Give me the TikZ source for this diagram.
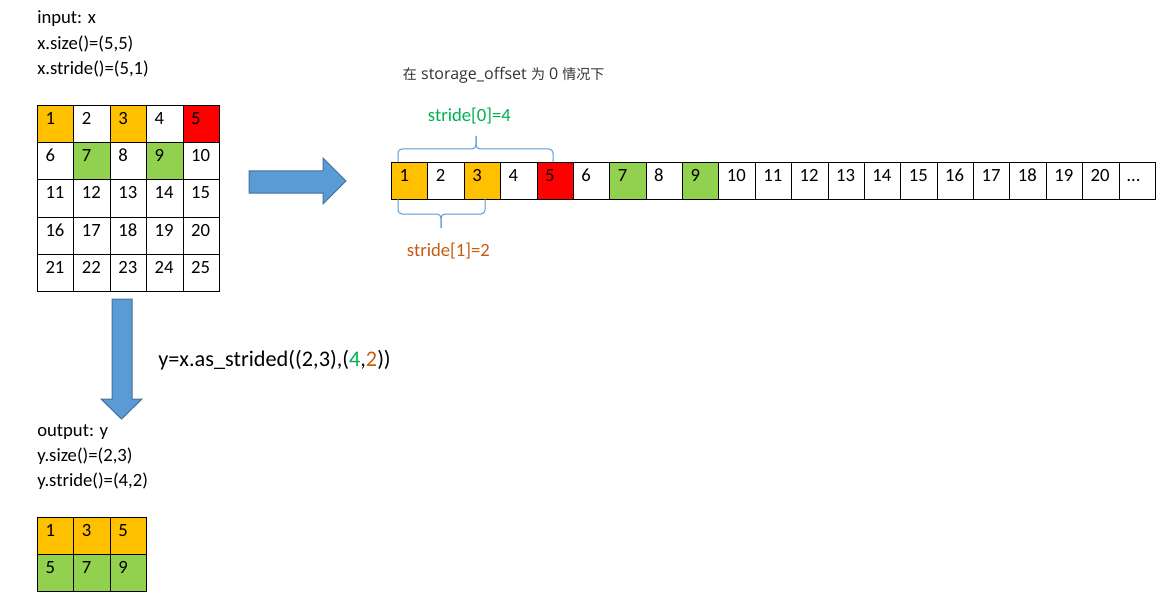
\documentclass[tikz,border=0pt]{standalone}
\usepackage{fontspec}
\setmainfont{Carlito}
\newfontfamily\cjk{Noto Sans CJK SC}
\newfontfamily\notelatin{Open Sans}
\usetikzlibrary{calc}
\definecolor{orng}{HTML}{FFC000}
\definecolor{grn}{HTML}{92D050}
\definecolor{rd}{HTML}{FF0000}
\definecolor{arrfill}{HTML}{5B9BD5}
\definecolor{arredge}{HTML}{41719C}
\definecolor{bracecol}{HTML}{5B9BD5}
\definecolor{lblgreen}{HTML}{00B050}
\definecolor{lblorange}{HTML}{C55A11}
\definecolor{notegray}{HTML}{333333}
\begin{document}
\begin{tikzpicture}[x=0.75pt,y=-0.75pt,
  cell/.style={draw=black, line width=0.75pt, anchor=north west,
    minimum width=27.3pt, minimum height=27.9pt, inner xsep=6pt, inner ysep=0pt,
    text width=15.3pt, align=left, text height=14.25pt, text depth=13.65pt,
    font=\fontsize{14}{16}\selectfont},
  txt/.style={anchor=base west, inner sep=0pt, font=\fontsize{14}{16}\selectfont},
  blockarrow/.style={fill=arrfill, draw=arredge, line width=0.75pt, line join=miter},
  brc/.style={draw=bracecol, line width=0.75pt, rounded corners=3pt}]
\useasboundingbox (0,0) rectangle (1170,599);

% input texts
\node[txt] (in1) at (37,24) {input: x};
\node[txt] (in2) at (37,49.5) {x.size()=(5,5)};
\node[txt] (in3) at (37,74.5) {x.stride()=(5,1)};

% input grid
\foreach \r in {0,...,4} {
  \foreach \c in {0,...,4} {
    \pgfmathtruncatemacro\n{\r*5+\c+1}
    \def\col{white}
    \ifnum\n=1 \def\col{orng}\fi
    \ifnum\n=3 \def\col{orng}\fi
    \ifnum\n=5 \def\col{rd}\fi
    \ifnum\n=7 \def\col{grn}\fi
    \ifnum\n=9 \def\col{grn}\fi
    \node[cell, fill=\col] (x-\r-\c) at ({37+\c*36.4},{105+\r*37.2}) {\n};
  }
}

% storage
\node[txt, text=notegray, font=\fontsize{12}{14}\notelatin] (note) at (402.7,79.3)
  {{\cjk\fontsize{10.5}{12}\selectfont 在} storage\_offset {\cjk\fontsize{10.5}{12}\selectfont 为} 0 {\cjk\fontsize{10.5}{12}\selectfont 情况下}};
\foreach \i in {1,...,21} {
  \def\col{white}
  \ifnum\i=1 \def\col{orng}\fi
  \ifnum\i=3 \def\col{orng}\fi
  \ifnum\i=5 \def\col{rd}\fi
  \ifnum\i=7 \def\col{grn}\fi
  \ifnum\i=9 \def\col{grn}\fi
  \ifnum\i=21
    \node[cell] (s-\i) at ({391+(\i-1)*36.38},162) {…};
  \else
    \node[cell, fill=\col] (s-\i) at ({391+(\i-1)*36.38},162) {\i};
  \fi
}

% braces
\draw[brc] (398,162) |- (476,149) -- (476,136);
\draw[brc] (476,136) -- (476,149) -| (553,162);
\draw[brc] (398,199) |- (441,214) -- (441,228);
\draw[brc] (441,228) -- (441,214) -| (485,199);
\node[txt, text=lblgreen] (st0) at (427.7,121.7) {stride[0]=4};
\node[txt, text=lblorange] (st1) at (406.7,256.7) {stride[1]=2};

% block arrows
\draw[blockarrow] (249,171) -- (323,171) -- (323,158) -- (346,181) -- (323,204) -- (323,193) -- (249,193) -- cycle;
\draw[blockarrow] (112,299) -- (132,299) -- (132,399) -- (142,399) -- (121.5,419) -- (101,399) -- (112,399) -- cycle;

\node[txt, font=\fontsize{16.7}{19}\selectfont] (op) at (158,366.7)
  {y=x.as\_strided((2,3),(\textcolor{lblgreen}{4},\textcolor{lblorange}{2}))};

% output texts
\node[txt] (out1) at (37,436.7) {output: y};
\node[txt] (out2) at (37,461.7) {y.size()=(2,3)};
\node[txt] (out3) at (37,486.7) {y.stride()=(4,2)};

% output grid
\node[cell, fill=orng] (y-0-0) at (37,517) {1};
\node[cell, fill=orng] (y-0-1) at (73.4,517) {3};
\node[cell, fill=orng] (y-0-2) at (109.8,517) {5};
\node[cell, fill=grn] (y-1-0) at (37,554.2) {5};
\node[cell, fill=grn] (y-1-1) at (73.4,554.2) {7};
\node[cell, fill=grn] (y-1-2) at (109.8,554.2) {9};
\end{tikzpicture}
\end{document}
